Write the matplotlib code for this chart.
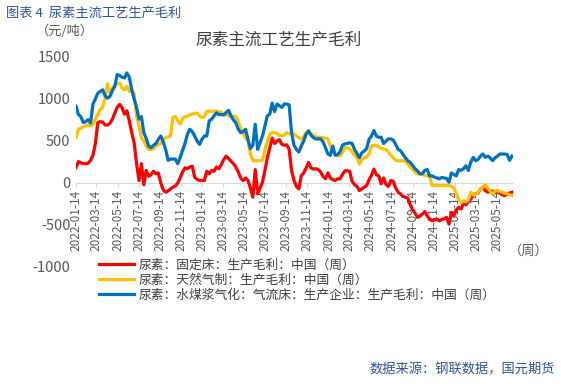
import matplotlib
matplotlib.use("Agg")
import matplotlib.pyplot as plt
import pandas as pd

plt.rcParams['font.family'] = ['Noto Sans CJK SC', 'DejaVu Sans']
plt.rcParams['axes.unicode_minus'] = False

# weekly data, 2022-01-14 .. 2025-06-27 (元/吨)
dates = pd.date_range("2022-01-14", periods=181, freq="7D")

fixed_bed = [
    185, 255, 240, 230, 230, 235, 270, 330, 470, 720,
    730, 725, 690, 690, 710, 760, 830, 900, 935, 900,
    820, 860, 740, 600, 480, 230, 30, 230, -20, 150,
    80, 100, 140, 110, 120, 0, -80, -110, -95, -70,
    -50, -35, 0, 60, 130, 180, 170, 190, 200, 70,
    45, 30, 30, 30, 140, 110, 150, 140, 190, 170,
    220, 280, 320, 290, 260, 230, 190, 130, 60, 30,
    60, 30, -60, -170, 160, -130, -60, 10, 150, 300,
    415, 535, 470, 500, 515, 460, 450, 455, 400, 150,
    30, -40, -70, 85, 120, 180, 245, 180, 165, 170,
    160, 130, 80, 50, 120, 60, 40, 30, 50, 50,
    100, 145, 145, 140, 20, -20, -40, -90, -70, -50,
    -30, 40, 90, 165, 100, 85, -10, 60, -20, -40,
    30, 20, -60, -110, -130, -160, -170, -180, -260, -320,
    -360, -410, -395, -370, -340, -390, -430, -450, -440, -430,
    -450, -435, -425, -410, -490, -350, -390, -320, -290, -310,
    -240, -260, -220, -190, -140, -130, -120, -70, -50, -90,
    -110, -95, -100, -110, -90, -120, -140, -150, -130, -120,
    -110,
]

natural_gas = [
    540, 640, 650, 670, 680, 690, 680, 700, 760, 820,
    875, 900, 1010, 1180, 1070, 1130, 1160, 1180, 1190, 1130,
    1110, 1150, 1090, 1120, 1060, 800, 680, 540, 500, 440,
    400, 400, 410, 440, 460, 470, 520, 540, 550, 560,
    780, 790, 740, 700, 770, 790, 795, 810, 820, 830,
    830, 800, 780, 790, 850, 855, 850, 855, 855, 850,
    840, 820, 815, 800, 795, 795, 790, 720, 650, 590,
    540, 500, 350, 265, 265, 265, 265, 270, 400, 500,
    580, 600, 600, 590, 565, 565, 570, 600, 585, 590,
    585, 560, 540, 525, 550, 600, 620, 590, 570, 550,
    545, 545, 540, 530, 525, 440, 380, 340, 325, 325,
    365, 420, 420, 405, 370, 330, 300, 225, 280, 300,
    310, 345, 440, 450, 445, 430, 410, 405, 400, 370,
    330, 300, 270, 265, 265, 265, 260, 230, 190, 160,
    130, 110, 105, 100, 90, 85, 80, -30, -30, -30,
    -30, -30, -30, -30, -30, -40, -60, -130, -200, -235,
    -210, -225, -200, -110, -140, -140, -110, -70, -50, -20,
    -60, -100, -130, -95, -90, -100, -110, -120, -130, -140,
    -150,
]

coal_slurry = [
    915, 815, 790, 720, 730, 755, 715, 940, 1000, 1070,
    1090, 1110, 1040, 1010, 1030, 1100, 1150, 1290, 1280, 1260,
    1250, 1310, 1260, 1110, 1000, 900, 760, 790, 600, 530,
    440, 420, 450, 470, 520, 560, 490, 400, 270, 285,
    285, 285, 230, 300, 390, 470, 580, 640, 610, 560,
    500, 460, 520, 560, 560, 740, 760, 800, 835, 815,
    815, 810, 840, 865, 800, 750, 715, 640, 600, 610,
    640, 520, 410, 450, 700, 400, 480, 560, 680, 800,
    820, 950, 850, 940, 920, 900, 940, 940, 930, 600,
    450, 400, 370, 440, 500, 580, 620, 570, 540, 525,
    525, 525, 490, 420, 345, 330, 440, 330, 340, 370,
    450, 465, 470, 480, 470, 400, 350, 300, 360, 380,
    410, 520, 560, 625, 560, 545, 545, 470, 500, 525,
    525, 510, 460, 400, 385, 340, 300, 265, 245, 210,
    170, 145, 110, 110, 150, 160, 85, 85, 70, 60,
    50, 65, 60, 55, 10, 120, 100, 85, 160, 150,
    170, 205, 150, 250, 305, 265, 280, 320, 345, 305,
    320, 300, 265, 300, 320, 345, 345, 345, 340, 270,
    320,
]

labels = [
    "尿素：固定床：生产毛利：中国（周）",
    "尿素：天然气制：生产毛利：中国（周）",
    "尿素：水煤浆气化：气流床：生产企业：生产毛利：中国（周）",
]
colors = ["#FF0000", "#FFC000", "#0070C0"]

fig = plt.figure(figsize=(5.61, 3.84), dpi=100)
ax = fig.add_axes([76 / 561, 1 - 267 / 384, (513 - 76) / 561, (267 - 57) / 384])

for ys, c, lab in zip([fixed_bed, natural_gas, coal_slurry], colors, labels):
    ax.plot(dates, ys, color=c, lw=2.3, label=lab, solid_joinstyle="round")

ax.set_ylim(-1000, 1500)
ax.set_yticks([-1000, -500, 0, 500, 1000, 1500])
ax.set_xlim(dates[0], dates[-1] + pd.Timedelta(days=3))
ticks = [dates[0] + pd.DateOffset(months=2 * k) for k in range(21)]
ax.set_xticks(ticks)
ax.set_xticklabels([t.strftime("%Y-%m-%d") for t in ticks])
ax.tick_params(axis="x", labelrotation=90, labelsize=8.5, labelcolor="#595959",
               length=3, color="#D9D9D9", pad=2)
ax.tick_params(axis="y", length=0, labelsize=10.5, labelcolor="#595959", pad=4)

for s in ["top", "right", "left"]:
    ax.spines[s].set_visible(False)
ax.spines["bottom"].set_position(("data", 0))
ax.spines["bottom"].set_color("#D9D9D9")
ax.spines["bottom"].set_zorder(0)

ax.legend(loc="upper left", bbox_to_anchor=(0.04, 0.065), frameon=False,
          fontsize=9.2, handlelength=2.8, handletextpad=0.3, labelspacing=0.15,
          labelcolor="#404040", borderaxespad=0)

fig.text(0.01, 0.982, "图表 4  尿素主流工艺生产毛利", fontsize=9.5,
         color="#2E5597", va="top", ha="left")
fig.text(0.497, 0.895, "尿素主流工艺生产毛利", fontsize=12, color="#404040",
         ha="center", va="center")
fig.text(0.115, 0.918, "（元/吨）", fontsize=9.5, color="#595959",
         ha="center", va="center")
fig.text(0.942, 0.345, "（周）", fontsize=9.5, color="#595959",
         ha="center", va="center")
fig.text(0.99, 0.02, "数据来源：钢联数据，国元期货", fontsize=9.5,
         color="#2E5597", ha="right", va="bottom")

fig.savefig("out.png", dpi=100)
